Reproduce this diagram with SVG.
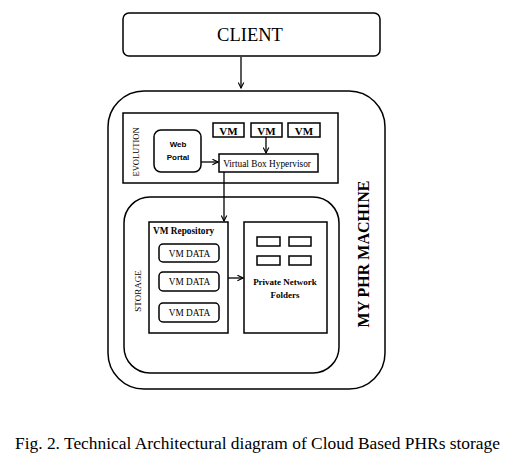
<svg xmlns="http://www.w3.org/2000/svg" width="508" height="466" viewBox="0 0 508 466">
<style>
.b{fill:#fff;stroke:#000;stroke-width:1.5}
.t{fill:#000;font-family:"Liberation Serif","Times New Roman",serif}
.c{stroke:#000;stroke-width:1.3;fill:none}
</style>
<defs>
<marker id="ah" viewBox="0 0 10 10" refX="9" refY="5" markerWidth="7" markerHeight="7" markerUnits="userSpaceOnUse" orient="auto">
<path d="M1,1 L9,5 L1,9" fill="none" stroke="#000" stroke-width="1.6"/>
</marker>
</defs>
<rect width="508" height="466" fill="#fff"/>
<g id="client">
<rect class="b" x="123" y="13" width="257" height="43" rx="6"/>
<text class="t" x="250" y="41" font-size="18.5" text-anchor="middle">CLIENT</text>
</g>
<g id="machine">
<rect class="b" x="108" y="91" width="277" height="298" rx="36"/>
<text class="t" transform="translate(369,254) rotate(-90)" font-size="16" font-weight="bold" text-anchor="middle">MY PHR MACHINE</text>
</g>
<g id="evolution">
<rect class="b" x="123" y="113" width="215" height="70"/>
<text class="t" transform="translate(139,152) rotate(-90)" font-size="8.5" text-anchor="middle">EVOLUTION</text>
</g>
<g id="vm1"><rect class="b" x="213" y="123" width="31" height="14"/><text class="t" x="228.5" y="134.5" font-size="11" font-weight="bold" text-anchor="middle">VM</text></g>
<g id="vm2"><rect class="b" x="251" y="123" width="31" height="14"/><text class="t" x="266.5" y="134.5" font-size="11" font-weight="bold" text-anchor="middle">VM</text></g>
<g id="vm3"><rect class="b" x="288" y="123" width="32" height="14"/><text class="t" x="304" y="134.5" font-size="11" font-weight="bold" text-anchor="middle">VM</text></g>
<g id="webportal">
<rect class="b" x="154" y="130" width="47" height="42" rx="7"/>
<text x="178" y="147" font-size="8" font-weight="bold" font-family="Liberation Sans,sans-serif" text-anchor="middle">Web</text>
<text x="178" y="160" font-size="8" font-weight="bold" font-family="Liberation Sans,sans-serif" text-anchor="middle">Portal</text>
</g>
<g id="hypervisor">
<rect class="b" x="219" y="154" width="99" height="18"/>
<text class="t" x="267" y="166.5" font-size="9.3" text-anchor="middle">Virtual Box Hypervisor</text>
</g>
<g id="storage">
<rect class="b" x="124" y="197" width="215" height="176" rx="26"/>
<text class="t" transform="translate(141,291) rotate(-90)" font-size="9" text-anchor="middle">STORAGE</text>
</g>
<g id="repository">
<rect class="b" x="149" y="222" width="79" height="111"/>
<text class="t" x="153" y="234" font-size="9.3" font-weight="bold">VM Repository</text>
</g>
<g id="vmdata1"><rect class="b" x="159" y="244" width="60" height="18" rx="4"/><text class="t" x="189.5" y="256.5" font-size="9.3" text-anchor="middle">VM DATA</text></g>
<g id="vmdata2"><rect class="b" x="159" y="272" width="60" height="19" rx="4"/><text class="t" x="189.5" y="285" font-size="9.3" text-anchor="middle">VM DATA</text></g>
<g id="vmdata3"><rect class="b" x="159" y="303" width="60" height="19" rx="4"/><text class="t" x="189.5" y="316" font-size="9.3" text-anchor="middle">VM DATA</text></g>
<g id="folders">
<rect class="b" x="244" y="222" width="83" height="111"/>
<rect class="b" x="257" y="237" width="23" height="9"/>
<rect class="b" x="289" y="237" width="22" height="9"/>
<rect class="b" x="257" y="256" width="23" height="9"/>
<rect class="b" x="289" y="256" width="22" height="9"/>
<text class="t" x="285" y="285" font-size="9" font-weight="bold" text-anchor="middle">Private Network</text>
<text class="t" x="285" y="297.5" font-size="9" font-weight="bold" text-anchor="middle">Folders</text>
</g>
<g id="connectors">
<line class="c" x1="241" y1="57" x2="241" y2="88" marker-end="url(#ah)"/>
<line class="c" x1="266" y1="137" x2="266" y2="153" marker-end="url(#ah)"/>
<line class="c" x1="201" y1="162" x2="218" y2="162" marker-end="url(#ah)"/>
<line class="c" x1="224" y1="172" x2="224" y2="221" marker-end="url(#ah)"/>
<line class="c" x1="228" y1="278" x2="243" y2="278" marker-end="url(#ah)"/>
</g>
<text class="t" x="15" y="449" font-size="17.3" textLength="485" lengthAdjust="spacingAndGlyphs">Fig. 2. Technical Architectural diagram of Cloud Based PHRs storage</text>
</svg>
